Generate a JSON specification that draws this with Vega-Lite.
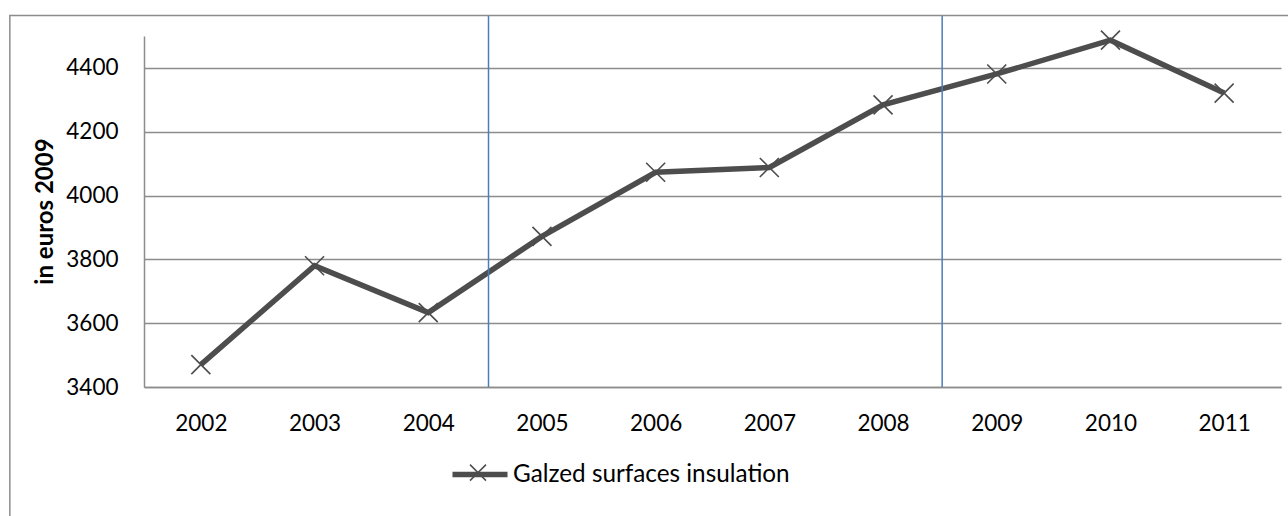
{
  "$schema": "https://vega.github.io/schema/vega-lite/v6.json",
  "width": 1137,
  "height": 351,
  "autosize": {"type": "none"},
  "padding": {"left": 144, "top": 36, "right": 7, "bottom": 129},
  "background": "white",
  "config": {"view": {"stroke": null}, "font": "Lato"},
  "datasets": {
    "series": [
      {"year": 2002, "value": 3470},
      {"year": 2003, "value": 3780},
      {"year": 2004, "value": 3633},
      {"year": 2005, "value": 3872},
      {"year": 2006, "value": 4073},
      {"year": 2007, "value": 4088},
      {"year": 2008, "value": 4284},
      {"year": 2009, "value": 4381},
      {"year": 2010, "value": 4487},
      {"year": 2011, "value": 4321}
    ],
    "dividers": [{"year": 2004.53}, {"year": 2008.52}]
  },
  "layer": [
    {
      "data": {"name": "series"},
      "mark": {"type": "line", "strokeWidth": 5.5},
      "encoding": {
        "x": {
          "field": "year", "type": "quantitative",
          "scale": {"domain": [2001.5, 2011.5], "nice": false, "zero": false},
          "axis": {
            "title": null, "values": [2002, 2003, 2004, 2005, 2006, 2007, 2008, 2009, 2010, 2011],
            "format": "d", "grid": false, "ticks": false,
            "domainColor": "#8c8c8c", "domainWidth": 1.5,
            "labelFontSize": 22.5, "labelColor": "#000000", "labelPadding": 25,
            "labelFont": "Lato"
          }
        },
        "y": {
          "field": "value", "type": "quantitative",
          "scale": {"domain": [3400, 4500], "nice": false, "zero": false},
          "axis": {
            "title": "in euros 2009", "values": [3400, 3600, 3800, 4000, 4200, 4400],
            "format": "d",
            "grid": true, "gridColor": "#8c8c8c", "gridWidth": 1.5,
            "ticks": false, "domainColor": "#8c8c8c", "domainWidth": 1.5,
            "labelFontSize": 22.5, "labelColor": "#000000", "labelPadding": 26,
            "labelFont": "Lato",
            "titleFont": "Lato", "titleFontSize": 24, "titleFontWeight": "bold", "titleColor": "#000000",
            "titleAngle": -90, "titleX": -92, "titleY": 175, "titleAlign": "center", "titleBaseline": "alphabetic"
          }
        },
        "color": {
          "datum": "Galzed surfaces insulation",
          "scale": {"range": ["#4d4d4d"]},
          "legend": {
            "title": null, "orient": "none", "legendX": 305.5, "legendY": 408, "padding": 0,
            "symbolType": "stroke", "symbolSize": 3025, "symbolStrokeWidth": 5.5,
            "symbolStrokeColor": "#4d4d4d", "labelLimit": 0,
            "labelFontSize": 24.3, "labelColor": "#000000", "labelFont": "Lato", "labelOffset": 2.5
          }
        }
      }
    },
    {
      "data": {"name": "series"},
      "mark": {"type": "point", "filled": false, "strokeWidth": 1.6, "size": 361, "opacity": 1},
      "encoding": {
        "x": {"field": "year", "type": "quantitative"},
        "y": {"field": "value", "type": "quantitative"},
        "shape": {
          "datum": "marker",
          "scale": {"range": ["M-1,-1L1,1M-1,1L1,-1"]},
          "legend": {
            "title": null, "orient": "none", "legendX": 325, "legendY": 427.6, "padding": 0,
            "symbolSize": 256, "symbolStrokeWidth": 1.5, "symbolStrokeColor": "#4d4d4d",
            "symbolFillColor": "transparent", "labelOpacity": 0, "labelFontSize": 1
          }
        },
        "color": {"value": "#4d4d4d"}
      }
    },
    {
      "data": {"name": "dividers"},
      "mark": {"type": "rule", "color": "#4a7ebb", "strokeWidth": 1.5},
      "encoding": {
        "x": {"field": "year", "type": "quantitative"},
        "y": {"datum": 3400, "type": "quantitative"},
        "y2": {"datum": 4564}
      }
    },
    {
      "data": {"values": [{}]},
      "mark": {"type": "rect", "fill": null, "stroke": "#8c8c8c", "strokeWidth": 1.5},
      "encoding": {
        "x": {"datum": 2000.32, "type": "quantitative"},
        "x2": {"datum": 2013},
        "y": {"datum": 4564, "type": "quantitative"},
        "y2": {"datum": 2900}
      }
    }
  ]
}
